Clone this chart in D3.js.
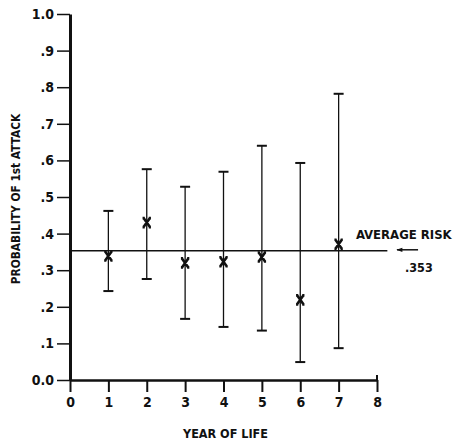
<!DOCTYPE html>
<html>
<head>
<meta charset="utf-8">
<script src="https://cdn.jsdelivr.net/npm/d3@7"></script>
<style>
  body { margin: 0; background: #fff; }
  text { font-family: "DejaVu Sans Condensed", "Liberation Sans Narrow", sans-serif; font-weight: bold; fill: #111; }
</style>
</head>
<body>
<svg id="chart"></svg>
<script>
var years = [1, 2, 3, 4, 5, 6, 7];
var prob = [0.339, 0.43, 0.32, 0.323, 0.336, 0.219, 0.371];
var upper = [0.462, 0.576, 0.528, 0.569, 0.64, 0.593, 0.782];
var lower = [0.243, 0.276, 0.167, 0.145, 0.135, 0.049, 0.087];
var avgRisk = 0.353;
var xTicks = [0, 1, 2, 3, 4, 5, 6, 7, 8];
var yTicks = [0, 0.1, 0.2, 0.3, 0.4, 0.5, 0.6, 0.7, 0.8, 0.9, 1.0];
var yTickLabels = ["0.0", ".1", ".2", ".3", ".4", ".5", ".6", ".7", ".8", ".9", "1.0"];

var width = 458, height = 444;
var margin = { top: 14, right: 81, bottom: 64, left: 70 };

var svg = d3.select("#chart").attr("width", width).attr("height", height);

var x = d3.scaleLinear().domain([0, 8]).range([margin.left, width - margin.right]);
var y = d3.scaleLinear().domain([0, 1]).range([height - margin.bottom, margin.top]);

// x axis
var xAxis = svg.append("g")
  .attr("transform", "translate(0," + y(0) + ")")
  .call(d3.axisBottom(x).tickValues(xTicks).tickFormat(d3.format("d")).tickSize(12).tickSizeOuter(0).tickPadding(5));
xAxis.select(".domain").attr("stroke", "#111").attr("stroke-width", 2.5);
xAxis.selectAll(".tick line").attr("stroke", "#111").attr("stroke-width", 2);
xAxis.selectAll(".tick text").style("font-size", "14px");
// small upturned end at 8
svg.append("line")
  .attr("x1", x(8)).attr("x2", x(8))
  .attr("y1", y(0) - 5).attr("y2", y(0))
  .attr("stroke", "#111").attr("stroke-width", 2);

// y axis
var yAxis = svg.append("g")
  .attr("transform", "translate(" + x(0) + ",0)")
  .call(d3.axisLeft(y).tickValues(yTicks).tickFormat(function (d, i) { return yTickLabels[i]; }).tickSize(13).tickSizeOuter(0).tickPadding(3));
yAxis.select(".domain").attr("stroke", "#111").attr("stroke-width", 3);
yAxis.selectAll(".tick line").attr("stroke", "#111").attr("stroke-width", 1.5);
yAxis.selectAll(".tick text").style("font-size", "14px");

// average risk line
svg.append("line")
  .attr("x1", x(0)).attr("x2", x(8.27))
  .attr("y1", y(avgRisk)).attr("y2", y(avgRisk))
  .attr("stroke", "#111").attr("stroke-width", 1.6);

// arrow pointing back at the line
svg.append("defs").append("marker")
  .attr("id", "arrow")
  .attr("viewBox", "0 0 10 10")
  .attr("refX", 9).attr("refY", 5)
  .attr("markerWidth", 7).attr("markerHeight", 4)
  .attr("orient", "auto")
  .append("path").attr("d", "M0,1.5 L10,5 L0,8.5 Z").attr("fill", "#111");
svg.append("line")
  .attr("x1", x(9.07)).attr("x2", x(8.52))
  .attr("y1", y(avgRisk) - 1).attr("y2", y(avgRisk) - 1)
  .attr("stroke", "#111").attr("stroke-width", 1.5)
  .attr("marker-end", "url(#arrow)");

svg.append("text")
  .attr("x", x(7.45)).attr("y", y(avgRisk) - 12)
  .style("font-size", "13px")
  .text("AVERAGE RISK");
svg.append("text")
  .attr("x", x(8.73)).attr("y", y(avgRisk) + 21)
  .style("font-size", "12.5px")
  .text(d3.format(".3f")(avgRisk).replace(/^0/, ""));

// error bars
var capW = 5;
var bars = svg.append("g").selectAll("g")
  .data(years)
  .enter()
  .append("g");
bars.append("line")
  .attr("x1", function (d) { return x(d); })
  .attr("x2", function (d) { return x(d); })
  .attr("y1", function (d, i) { return y(upper[i]); })
  .attr("y2", function (d, i) { return y(lower[i]); })
  .attr("stroke", "#111").attr("stroke-width", 1.3);
bars.append("line")
  .attr("x1", function (d) { return x(d) - capW; })
  .attr("x2", function (d) { return x(d) + capW; })
  .attr("y1", function (d, i) { return y(upper[i]); })
  .attr("y2", function (d, i) { return y(upper[i]); })
  .attr("stroke", "#111").attr("stroke-width", 2);
bars.append("line")
  .attr("x1", function (d) { return x(d) - capW; })
  .attr("x2", function (d) { return x(d) + capW; })
  .attr("y1", function (d, i) { return y(lower[i]); })
  .attr("y2", function (d, i) { return y(lower[i]); })
  .attr("stroke", "#111").attr("stroke-width", 2);
bars.append("path")
  .attr("transform", function (d, i) { return "translate(" + x(d) + "," + y(prob[i]) + ")"; })
  .attr("d", "M-3.2,-4.5 L3.2,4.5 M3.2,-4.5 L-3.2,4.5 M-4.2,-4.5 L-2,-4.5 M2,-4.5 L4.2,-4.5 M-4.2,4.5 L-2,4.5 M2,4.5 L4.2,4.5")
  .attr("stroke", "#111").attr("stroke-width", 2.6).attr("fill", "none");

// axis titles
svg.append("text")
  .attr("x", x(4) + 2).attr("y", 438)
  .attr("text-anchor", "middle")
  .style("font-size", "12.5px")
  .text("YEAR OF LIFE");
svg.append("text")
  .attr("transform", "translate(20," + 199 + ") rotate(-90)")
  .attr("text-anchor", "middle")
  .style("font-size", "11.8px")
  .text("PROBABILITY OF 1st ATTACK");
</script>
</body>
</html>
